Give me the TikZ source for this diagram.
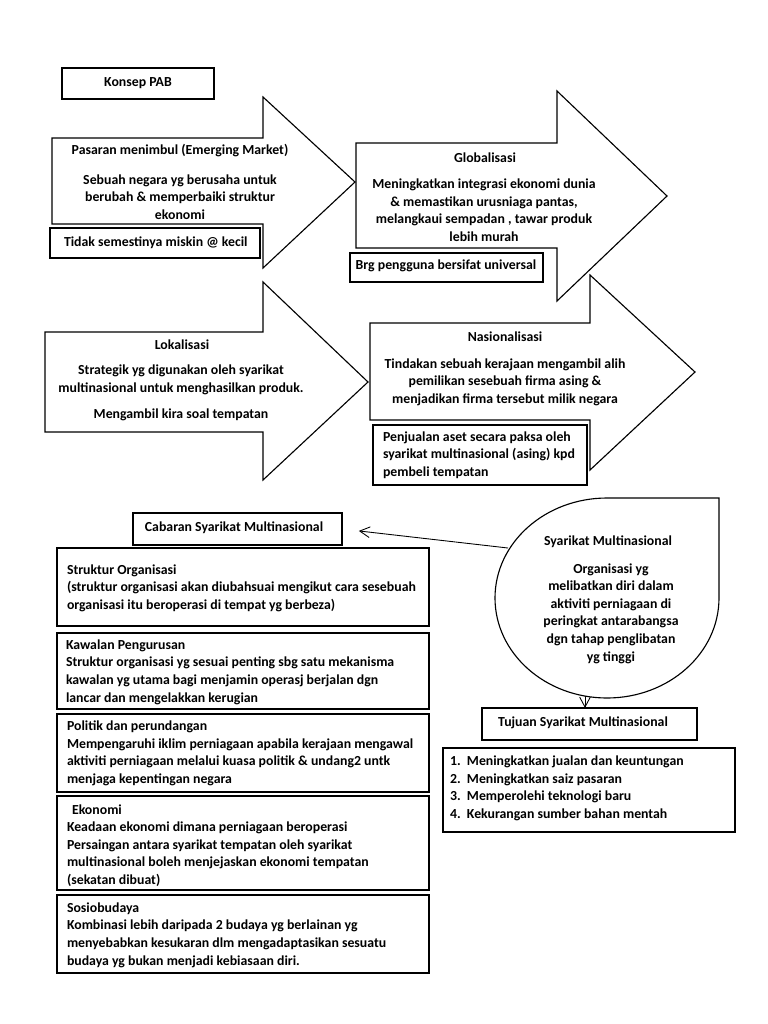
\documentclass[tikz,border=0pt]{standalone}
\usepackage{fontspec}
\setmainfont{Carlito}
\usetikzlibrary{arrows.meta}
\begin{document}
\begin{tikzpicture}[x=0.797pt,y=-0.797pt,
  font=\fontsize{11}{14}\selectfont\bfseries,
  line width=0.9pt,
  box/.style={draw, fill=white, inner sep=0pt, outer sep=0pt},
  txt/.style={inner sep=0pt, outer sep=0pt, align=center},
  ltxt/.style={inner sep=0pt, outer sep=0pt, align=left, anchor=west},
  bigarrow/.style={draw, fill=white, line join=miter},
  conn/.style={-{Straight Barb[length=8pt,width=8.5pt]}, line width=0.7pt}]
\useasboundingbox (0,0) rectangle (768,1024);

% Konsep PAB
\node[box, minimum width=152*0.797pt, minimum height=31*0.797pt] (kon) at (138,83.5) {};
\node[txt] (kont) at (138,83) {Konsep PAB};

% Arrow 1
\draw[bigarrow] (52,138) -- (263,138) -- (263,97) -- (355,182) -- (263,268) -- (263,224) -- (52,224) -- cycle;
\node[txt] (a1h) at (180,151) {Pasaran menimbul (Emerging Market)};
\node[txt] (a1b) at (180,197) {Sebuah negara yg berusaha untuk\\berubah \& memperbaiki struktur\\ekonomi};
\node[box, minimum width=210*0.797pt, minimum height=30*0.797pt] (tid) at (155,243) {};
\node[ltxt] (tidt) at (64,243) {Tidak semestinya miskin @ kecil};

% Arrow 2
\draw[bigarrow] (356,143) -- (557,143) -- (557,91) -- (667,196) -- (557,301) -- (557,248) -- (356,248) -- cycle;
\node[txt] (a2h) at (485,158) {Globalisasi};
\node[txt] (a2b) at (484,210) {Meningkatkan integrasi ekonomi dunia\\\& memastikan urusniaga pantas,\\melangkaui sempadan , tawar produk\\lebih murah};
\node[box, minimum width=193*0.797pt, minimum height=29*0.797pt] (brg) at (446.5,267.5) {};
\node[txt] (brgt) at (446,266) {Brg pengguna bersifat universal};

% Arrow 3
\draw[bigarrow] (45,332) -- (263,332) -- (263,282) -- (368,382) -- (263,480) -- (263,432) -- (45,432) -- cycle;
\node[txt] (a3h) at (182,345) {Lokalisasi};
\node[txt] (a3b) at (181,380) {Strategik yg digunakan oleh syarikat\\multinasional untuk menghasilkan produk.};
\node[txt] (a3c) at (181,415) {Mengambil kira soal tempatan};

% Arrow 4
\draw[bigarrow] (370,323) -- (590,323) -- (590,275) -- (695,372) -- (590,470) -- (590,420) -- (370,420) -- cycle;
\node[txt] (a4h) at (505,337) {Nasionalisasi};
\node[txt] (a4b) at (505,382) {Tindakan sebuah kerajaan mengambil alih\\pemilikan sesebuah firma asing \&\\menjadikan firma tersebut milik negara};
\node[box, minimum width=214*0.797pt, minimum height=60*0.797pt] (pen) at (480,455) {};
\node[ltxt] (pent) at (383,455) {Penjualan aset secara paksa oleh\\syarikat multinasional (asing) kpd\\pembeli tempatan};

% Cabaran
\node[box, minimum width=209*0.797pt, minimum height=32*0.797pt] (cab) at (237.5,529) {};
\node[txt] (cabt) at (234,528) {Cabaran Syarikat Multinasional};

\node[box, minimum width=372*0.797pt, minimum height=78*0.797pt] (s1) at (243,587) {};
\node[ltxt] (s1t) at (67,588) {Struktur Organisasi\\(struktur organisasi akan diubahsuai mengikut cara sesebuah\\organisasi itu beroperasi di tempat yg berbeza)};

\node[box, minimum width=372*0.797pt, minimum height=76*0.797pt] (s2) at (243,671) {};
\node[ltxt] (s2t) at (66,672) {Kawalan Pengurusan\\Struktur organisasi yg sesuai penting sbg satu mekanisma\\kawalan yg utama bagi menjamin operasj berjalan dgn\\lancar dan mengelakkan kerugian};

\node[box, minimum width=372*0.797pt, minimum height=78*0.797pt] (s3) at (243,753) {};
\node[ltxt] (s3t) at (67,753.5) {Politik dan perundangan\\Mempengaruhi iklim perniagaan apabila kerajaan mengawal\\aktiviti perniagaan melalui kuasa politik \& undang2 untk\\menjaga kepentingan negara};

\node[box, minimum width=372*0.797pt, minimum height=94*0.797pt] (s4) at (243,843) {};
\node[ltxt] (s4t) at (67,845.5) {\hspace*{4pt}Ekonomi\\Keadaan ekonomi dimana perniagaan beroperasi\\Persaingan antara syarikat tempatan oleh syarikat\\multinasional boleh menjejaskan ekonomi tempatan\\(sekatan dibuat)};

\node[box, minimum width=372*0.797pt, minimum height=78*0.797pt] (s5) at (243,934) {};
\node[ltxt] (s5t) at (67,935) {Sosiobudaya\\Kombinasi lebih daripada 2 budaya yg berlainan yg\\menyebabkan kesukaran dlm mengadaptasikan sesuatu\\budaya yg bukan menjadi kebiasaan diri.};

% Teardrop
\draw[fill=white, line join=miter] (607,498) -- (719,498) -- (719,598)
  arc[start angle=0, end angle=-270, x radius=112*0.797pt, y radius=100*0.797pt] -- cycle;
\node[txt] (tdh) at (608,542) {Syarikat Multinasional};
\node[txt] (tdb) at (611,613.5) {Organisasi yg\\melibatkan diri dalam\\aktiviti perniagaan di\\peringkat antarabangsa\\dgn tahap penglibatan\\yg tinggi};
\coordinate (tdw) at (508,548);
\coordinate (tds) at (585,696);

% Tujuan
\node[box, minimum width=215*0.797pt, minimum height=32*0.797pt] (tuj) at (589.5,724) {};
\node[txt] (tujt) at (583,723) {Tujuan Syarikat Multinasional};
\node[box, minimum width=292*0.797pt, minimum height=84*0.797pt] (lst) at (589,790) {};
\node[ltxt] (lstt) at (450,788.5) {\makebox[13.5pt][l]{1.}Meningkatkan jualan dan keuntungan\\\makebox[13.5pt][l]{2.}Meningkatkan saiz pasaran\\\makebox[13.5pt][l]{3.}Memperolehi teknologi baru\\\makebox[13.5pt][l]{4.}Kekurangan sumber bahan mentah};

% Connectors
\draw[conn, shorten >=13.5pt] (tdw) -- (cab.east);
\draw[conn] (tds) -- (tds |- tuj.north);
\end{tikzpicture}
\end{document}
